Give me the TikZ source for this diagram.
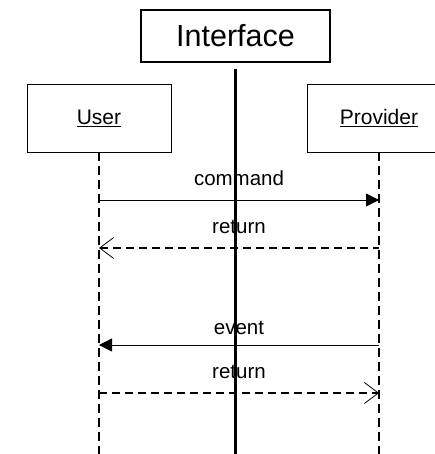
\documentclass[tikz,border=0pt]{standalone}
\usepackage{fontspec}
\setmainfont{Liberation Sans}
\usetikzlibrary{arrows.meta}

\begin{document}
\begin{tikzpicture}[x=1pt,y=-1pt]
\tikzstyle{every node}=[inner sep=0pt]
\tikzstyle{actor}=[draw,line width=.8pt,minimum width=144pt,minimum height=68pt,font=\fontsize{21}{24}\selectfont]
\tikzstyle{lifeline}=[line width=1.6pt,dash pattern=on 9pt off 5pt]
\tikzstyle{msg}=[line width=.8pt]
\tikzstyle{reply}=[line width=1.4pt,dash pattern=on 8pt off 5pt]
\tikzstyle{label}=[font=\fontsize{20.5}{24}\selectfont]
\useasboundingbox (0,0) rectangle (434,454);
\draw (235.5,36) node (iface) [draw,line width=1.2pt,minimum width=189pt,minimum height=52pt,font=\fontsize{30.5}{34}\selectfont] {Interface};
\draw (99,118) node (user) [actor] {\underline{User}};
\draw (379,118) node (prov) [actor] {\underline{Provider}};
\coordinate (top) at (235.5,69);
\coordinate (bot) at (235.5,456);
\draw[line width=3.5pt] (top) -- (bot);
\draw[lifeline] (user.south) -- (user.south |- bot);
\draw[lifeline] (prov.south) -- (prov.south |- bot);
% messages
\coordinate (u1) at (99,200); \coordinate (p1) at (379,200);
\coordinate (u2) at (99,248); \coordinate (p2) at (379,248);
\coordinate (u3) at (99,345); \coordinate (p3) at (379,345);
\coordinate (u4) at (99,393); \coordinate (p4) at (379,393);
\draw[msg,-{Triangle[length=13pt,width=13pt]}] (u1) -- node[label,above=14pt] (l1) {command} (p1);
\draw[reply,{Straight Barb[length=14pt,width=21pt,line width=.8pt]}-] (u2) -- node[label,above=14pt] (l2) {return} (p2);
\draw[msg,{Triangle[length=13pt,width=13pt]}-] (u3) -- node[label,above=10pt] (l3) {event} (p3);
\draw[reply,-{Straight Barb[length=14pt,width=21pt,line width=.8pt]}] (u4) -- node[label,above=14pt] (l4) {return} (p4);
\end{tikzpicture}
\end{document}
